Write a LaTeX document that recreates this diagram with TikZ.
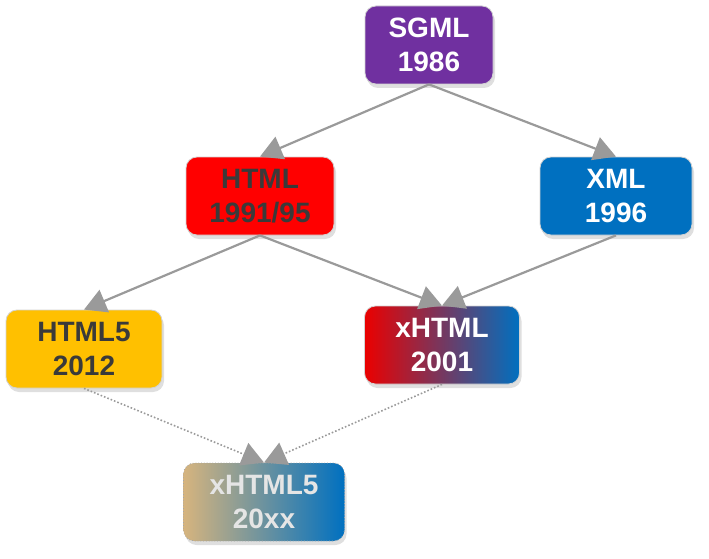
\documentclass[tikz,border=0pt]{standalone}
\usepackage{fontspec}
\setmainfont{Liberation Sans}
\usetikzlibrary{arrows.meta,shadows}
\definecolor{sgmlpurple}{HTML}{7030A0}
\definecolor{htmlred}{HTML}{FF0000}
\definecolor{xmlblue}{HTML}{0070C0}
\definecolor{hfiveyellow}{HTML}{FFC000}
\definecolor{darktext}{HTML}{3A3A3A}
\definecolor{arrowgray}{HTML}{9A9A9A}
\definecolor{tan}{HTML}{D6B47E}
\definecolor{teal}{HTML}{4E8F82}
\begin{document}
\begin{tikzpicture}[x=1pt,y=-1pt,
  box/.style={rounded corners=11pt, minimum height=78pt, inner sep=0pt,
    align=center, font=\fontsize{28}{34}\selectfont\bfseries,
    draw=gray!35, line width=0.8pt,
    drop shadow={shadow xshift=2pt, shadow yshift=-4pt, opacity=0.25, fill=gray}},
  conn/.style={draw=arrowgray, line width=2.2pt, -{Triangle[length=22pt,width=24pt]}},
  dconn/.style={draw=arrowgray, line width=1.6pt, dotted, -{Triangle[length=22pt,width=24pt]}}
]
\useasboundingbox (0,0) rectangle (709,559);
\node[box, fill=sgmlpurple, text=white, minimum width=128pt] (sgml) at (429,45) {SGML\\1986};
\node[box, fill=htmlred, text=darktext, minimum width=148pt] (html) at (260,196) {HTML\\1991/95};
\node[box, fill=xmlblue, text=white, minimum width=152pt] (xml) at (616,196) {XML\\1996};
\node[box, fill=hfiveyellow, text=darktext, minimum width=156pt] (hfive) at (84,349) {HTML5\\2012};
\node[box, left color=htmlred!92!black, right color=xmlblue, text=white, minimum width=155pt] (xhtml) at (442,345) {xHTML\\2001};
\node[box, left color=tan, middle color=teal, right color=xmlblue, text=gray!20, draw=gray!70, dotted, minimum width=161pt] (xhfive) at (264,502) {xHTML5\\20xx};
\draw[conn] (sgml.south) -- (html.north);
\draw[conn] (sgml.south) -- (xml.north);
\draw[conn] (html.south) -- (hfive.north);
\draw[conn] (html.south) -- (xhtml.north);
\draw[conn] (xml.south) -- (xhtml.north);
\draw[dconn] (hfive.south) -- (xhfive.north);
\draw[dconn] (xhtml.south) -- (xhfive.north);
\end{tikzpicture}
\end{document}
